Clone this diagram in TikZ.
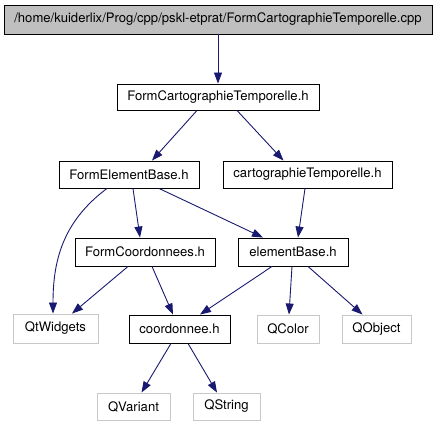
\documentclass[tikz,border=0pt]{standalone}
\usepackage{fontspec}
\setmainfont{TeX Gyre Heros}
\usepackage{xcolor}
\usetikzlibrary{arrows.meta}
\definecolor{edgeblue}{HTML}{191970}
\definecolor{rootgray}{HTML}{BFBFBF}
\definecolor{extgray}{HTML}{C8C8C8}

\begin{document}
\begin{tikzpicture}[
          x=1pt, y=-1pt,
          every node/.style={font=\fontsize{13.1}{15}\selectfont,inner sep=0pt},
          hdr/.style={draw=black,line width=0.9pt,minimum height=27pt},
          ext/.style={draw=extgray,line width=0.9pt,minimum height=28pt},
          arr/.style={-{Triangle[length=11pt,width=8pt]},edgeblue,line width=0.9pt},
      ]
        \useasboundingbox (0,0) rectangle (437,427);

        % root file
        \node[hdr,fill=rootgray,minimum width=428pt,minimum height=29pt] (root) at (218,19.5)
          {/home/kuiderlix/Prog/cpp/pskl-etprat/FormCartographieTemporelle.cpp};

        % headers
        \node[hdr,minimum width=202pt,minimum height=26pt] (fct) at (218,97) {FormCartographieTemporelle.h};
        \node[hdr,minimum width=140pt] (feb) at (129,174.5) {FormElementBase.h};
        \node[hdr,minimum width=169pt] (cart) at (307.5,174.5) {cartographieTemporelle.h};
        \node[hdr,minimum width=140pt,minimum height=28pt] (fco) at (145,252) {FormCoordonnees.h};
        \node[hdr,minimum width=110pt,minimum height=28pt] (elb) at (293,252) {elementBase.h};
        \node[hdr,minimum width=101pt,minimum height=28pt] (coord) at (179.5,329) {coordonnee.h};

        % Qt
        \node[ext,minimum width=85pt,minimum height=29pt] (qtw) at (55.5,328.5) {QtWidgets};
        \node[ext,minimum width=62pt] (qcol) at (288,329) {QColor};
        \node[ext,minimum width=69pt] (qobj) at (376.5,329) {QObject};
        \node[ext,minimum width=73pt,minimum height=27pt] (qvar) at (133.5,406.5) {QVariant};
        \node[ext,minimum width=67pt,minimum height=27pt] (qstr) at (226.5,406.5) {QString};

        \draw[arr] (root.south) -- (fct.north);
        \draw[arr] ([xshift=-21pt]fct.south) -- ([xshift=23pt]feb.north);
        \draw[arr] ([xshift=19pt]fct.south) -- ([xshift=-24pt]cart.north);
        \draw[arr] ([xshift=4pt]feb.south) -- ([xshift=-5pt]fco.north);
        \draw[arr] ([xshift=30pt]feb.south) -- ([xshift=-30pt]elb.north);
        \draw[arr] ([xshift=-22pt]feb.south) .. controls (62,222) and (53,262) .. ([xshift=-2.5pt]qtw.north);
        \draw[arr] ([xshift=-2.5pt]cart.south) -- ([xshift=5pt]elb.north);
        \draw[arr] ([xshift=-17pt]fco.south) -- ([xshift=16.5pt]qtw.north);
        \draw[arr] ([xshift=7pt]fco.south) -- ([xshift=-6.5pt]coord.north);
        \draw[arr] ([xshift=-21pt]elb.south) -- ([xshift=20.5pt]coord.north);
        \draw[arr] ([xshift=-1pt]elb.south) -- ([xshift=1pt]qcol.north);
        \draw[arr] ([xshift=15pt]elb.south) -- ([xshift=-14pt]qobj.north);
        \draw[arr] ([xshift=-8.5pt]coord.south) -- ([xshift=8pt]qvar.north);
        \draw[arr] ([xshift=8.5pt]coord.south) -- ([xshift=-9.5pt]qstr.north);
      \end{tikzpicture}
\end{document}
